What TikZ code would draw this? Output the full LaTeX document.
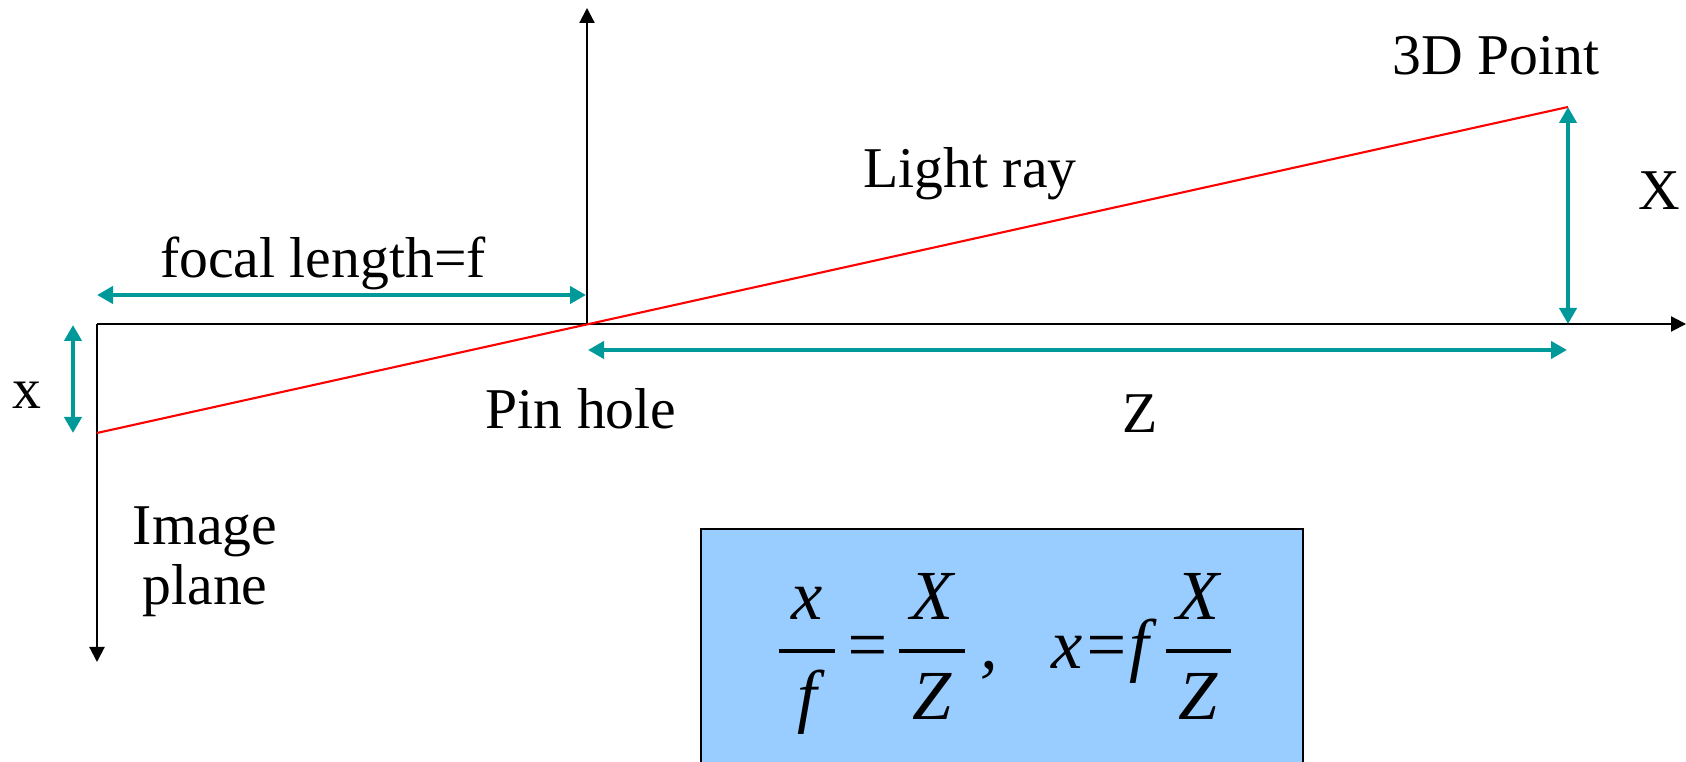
\documentclass[tikz,border=0pt]{standalone}
\usepackage{amsmath}
\usepackage{fontspec}
\setmainfont{Liberation Serif}
\newfontfamily\formulafont{Liberation Serif Italic}
\usetikzlibrary{arrows.meta}
\definecolor{rayRed}{RGB}{255,0,0}
\definecolor{dimTeal}{RGB}{0,153,153}
\definecolor{boxBlue}{RGB}{153,204,255}
\tikzset{
    AXIS/.style={draw=black, line width=0.6pt,
        -{Triangle[length=0.15cm, width=0.15cm]}},
    RAY/.style={draw=rayRed, line width=0.6pt},
    DIM_ARROW/.style={draw=dimTeal, line width=1.4pt,
        {Triangle[length=0.16cm, width=0.17cm]}-{Triangle[length=0.16cm, width=0.17cm]}},
    LABEL/.style={inner sep=0mm, font={\fontsize{16.4}{20}\selectfont}},
    FORMULA_BOX/.style={draw=black, line width=0.5pt, fill=boxBlue}
}
\newcommand{\ivar}[1]{\mbox{\formulafont #1}}
\newcommand{\wfrac}[3]{\genfrac{}{}{1.1pt}{0}{\makebox[#1]{\ivar{#2}}}{\makebox[#1]{\ivar{#3}}}}

\begin{document}
\begin{tikzpicture}[x=0.01cm, y=-0.01cm]
    \useasboundingbox (0,0) rectangle (1686,762);
    % points
    \coordinate (origin) at (97,324);
    \coordinate (pinhole) at (587,324);
    \coordinate (axisEnd) at (1686,324);
    \coordinate (pinTop) at (587,8);
    \coordinate (planeBottom) at (97,662);
    \coordinate (imagePoint) at (97,433);
    \coordinate (worldPoint) at (1568,107);
    \coordinate (worldFoot) at (1568,324);
    \coordinate (fLeft) at (97,295);
    \coordinate (fRight) at (586,295);
    \coordinate (xTop) at (73,325);
    \coordinate (xBottom) at (73,433);
    \coordinate (zLeft) at (588,350);
    \coordinate (zRight) at (1567,350);
    % formula box
    \draw[FORMULA_BOX] (701,763) -- (701,529) -- (1303,529) -- (1303,763);
    \node [anchor=base, inner sep=0mm, font={\fontsize{20}{24}\selectfont}] (formula) at (1005,669)
        {$\wfrac{16pt}{x}{f}\mkern1mu\ivar{=}\mkern1mu\wfrac{18.5pt}{X}{Z}\mkern3mu\ivar{,}\hspace{15pt}
          \ivar{x}\ivar{=}\ivar{f}\mkern3mu\wfrac{18.5pt}{X}{Z}$};
    % axes
    \draw[AXIS] (origin) to (axisEnd);
    \draw[AXIS] (pinhole) to (pinTop);
    \draw[AXIS] (origin) to (planeBottom);
    % light ray
    \draw[RAY] (imagePoint) to (worldPoint);
    % dimensions
    \draw[DIM_ARROW] (fLeft) to (fRight);
    \draw[DIM_ARROW] (xTop) to (xBottom);
    \draw[DIM_ARROW] (worldPoint) to (worldFoot);
    \draw[DIM_ARROW] (zLeft) to (zRight);
    % labels
    \node [LABEL] (pointLabel) at (1496,56) {3D Point};
    \node [LABEL] (rayLabel) at (970,174) {Light ray};
    \node [LABEL] (bigX) at (1659,191) {X};
    \node [LABEL] (focalLabel) at (323,263) {focal length=f};
    \node [LABEL] (smallX) at (27,395) {x};
    \node [LABEL] (pinLabel) at (581,409) {Pin hole};
    \node [LABEL] (zLabel) at (1140,414) {Z};
    \node [LABEL, align=center] (planeLabel) at (205,562) {Image\\[-3pt]plane};
\end{tikzpicture}
\end{document}
